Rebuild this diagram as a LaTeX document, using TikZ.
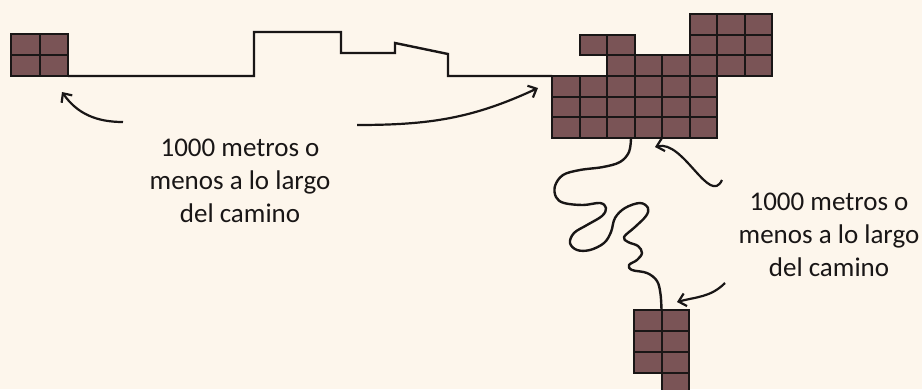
\documentclass[tikz,border=0pt]{standalone}
\usepackage{fontspec}
\setmainfont{Carlito}
\usetikzlibrary{arrows.meta}

\definecolor{paper}{RGB}{253,246,236}
\definecolor{brick}{RGB}{122,84,86}
\definecolor{ink}{RGB}{25,22,22}

\begin{document}
\begin{tikzpicture}[x=1pt,y=-1pt,
cell/.style={draw=ink,fill=brick,line width=2pt},
road/.style={draw=ink,line width=2.4pt,line join=miter},
arrow/.style={-{Straight Barb[length=7pt,width=13pt,line width=2.2pt]},draw=ink,line width=2.2pt},
label/.style={align=center,font=\fontsize{27}{33}\selectfont,text=ink}
]
\fill[paper] (0,0) rectangle (922,389);
\useasboundingbox (0,0) rectangle (922,389);

% the small block on the left
\foreach \c/\r in {0/0,1/0,0/1,1/1}
  \draw[cell] (11+\c*28.5,34+\r*21) rectangle ++(28.5,21);
% the large block
\foreach \c/\r in {5/0,6/0,7/0, 1/1,2/1,5/1,6/1,7/1, 2/2,3/2,4/2,5/2,6/2,7/2,
  0/3,1/3,2/3,3/3,4/3,5/3, 0/4,1/4,2/4,3/4,4/4,5/4, 0/5,1/5,2/5,3/5,4/5,5/5}
  \draw[cell] (552+\c*27.5,14.2+\r*20.6) rectangle ++(27.5,20.6);
% the block at the bottom
\foreach \c/\r in {0/0,1/0,0/1,1/1,0/2,1/2,1/3}
  \draw[cell] (634+\c*27.5,310+\r*21) rectangle ++(27.5,21);

\coordinate (smallblock) at (68,76);
\coordinate (bigblock) at (552,76);
\coordinate (bigbottom) at (631,138);
\coordinate (lowblock) at (661.5,310);

% the two paths
\draw[road] (smallblock) -- (254,76) -- (254,32) -- (341,32) -- (341,53) -- (395,53)
  -- (395,43) -- (448,54) -- (448,76) -- (bigblock);
\draw[road,line join=round] plot[smooth,tension=0.6] coordinates {(bigbottom) (629,152) (620,162)
  (603,167) (580,170) (563,175) (555,186) (556,197) (564,203) (583,205) (600,203)
  (606,208) (602,216) (587,225) (574,233) (570,243) (577,250) (590,250) (604,243)
  (611,232) (615,218) (625,208) (640,203) (648,208) (646,216) (635,227) (624,237)
  (628,242) (638,246) (642,253) (637,260) (629,265) (632,270) (647,273) (657,281)
  (660.5,294) (lowblock)};

\node[label] (leftlabel) at (240,181) {1000 metros o\\menos a lo largo\\del camino};
\node[label] (rightlabel) at (829,235) {1000 metros o\\menos a lo largo\\del camino};

\coordinate (tipa) at (62,92);
\coordinate (tipb) at (538,88);
\coordinate (tipc) at (655,147);
\coordinate (tipd) at (677,302);
\draw[arrow] (123,122) to[out=180,in=-55] (tipa);
\draw[arrow] (357,125) to[out=0,in=-155] (tipb);
\draw[arrow] (722,180) to[out=-115,in=15] (tipc);
\draw[arrow] (725,283) to[out=-135,in=15] (tipd);
\end{tikzpicture}
\end{document}
